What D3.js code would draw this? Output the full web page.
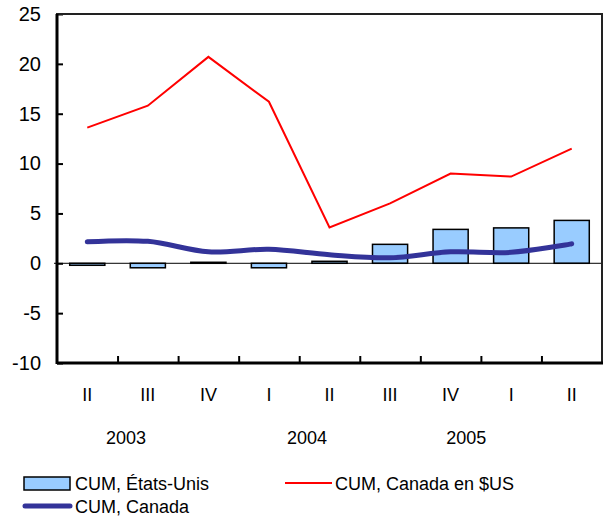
<!DOCTYPE html>
<html>
<head>
<meta charset="utf-8">
<title>CUM</title>
<style>
  body { margin: 0; background: #fff; }
  text { font-family: Arial, "Liberation Sans", sans-serif; fill: #000; }
</style>
</head>
<body>
<script src="https://d3js.org/d3.v7.min.js"></script>
<script>
// data
var quarters = ["II", "III", "IV", "I", "II", "III", "IV", "I", "II"];
var years = ["2003", "2004", "2005"];
var yearPos = [1.14, 4.13, 6.76]; // position in category units
var cumUS = [-0.2, -0.45, 0.1, -0.45, 0.2, 1.9, 3.4, 3.55, 4.3];
var cumCanUSD = [13.6, 15.8, 20.7, 16.2, 3.6, 6.0, 9.0, 8.7, 11.5];
var cumCanada = [2.15, 2.2, 1.15, 1.4, 0.85, 0.55, 1.15, 1.1, 1.95];
var yTicks = [-10, -5, 0, 5, 10, 15, 20, 25];

var width = 613, height = 519;
var m = {left: 57, right: 11, top: 14, bottom: 156};
var w = width - m.left - m.right, h = height - m.top - m.bottom;

var svg = d3.select("body").append("svg")
    .attr("width", width)
    .attr("height", height);

var g = svg.append("g").attr("transform", "translate(" + m.left + "," + m.top + ")");

var x = d3.scaleBand().domain(d3.range(quarters.length)).range([0, w]);
var y = d3.scaleLinear().domain([-10, 25]).range([h, 0]);

// bars
g.selectAll(".bar")
    .data(cumUS)
    .enter().append("rect")
    .attr("x", function(d, i) { return x(i) + x.bandwidth() * 0.21; })
    .attr("width", x.bandwidth() * 0.58)
    .attr("y", function(d) { return y(Math.max(0, d)); })
    .attr("height", function(d) { return Math.abs(y(d) - y(0)); })
    .style("fill", "#99ccff")
    .style("stroke", "#000")
    .style("stroke-width", 1.5);

// zero line
g.append("line")
    .attr("x1", -3).attr("x2", w)
    .attr("y1", y(0)).attr("y2", y(0))
    .style("stroke", "#000").style("stroke-width", 1);

var cx = function(d, i) { return x(i) + x.bandwidth() / 2; };

g.append("path")
    .datum(cumCanUSD)
    .attr("d", d3.line().x(cx).y(function(d) { return y(d); }))
    .style("fill", "none").style("stroke", "#ff0000").style("stroke-width", 2);

g.append("path")
    .datum(cumCanada)
    .attr("d", d3.line().x(cx).y(function(d) { return y(d); }).curve(d3.curveCatmullRom))
    .style("fill", "none").style("stroke", "#333399").style("stroke-width", 5)
    .style("stroke-linecap", "round");

// y axis
var yAxis = g.append("g")
    .call(d3.axisLeft(y).tickValues(yTicks).tickSize(-6).tickPadding(16)
        .tickFormat(function(d) { return String(d); }));
yAxis.selectAll("text").style("font-size", "20px");
yAxis.selectAll("line").style("stroke-width", 2);
yAxis.select(".domain").remove();

// x ticks on the category boundaries
var xAxis = g.append("g")
    .attr("transform", "translate(0," + h + ")")
    .call(d3.axisBottom(d3.scaleLinear().domain([0, quarters.length]).range([0, w]))
        .tickValues(d3.range(1, quarters.length)).tickSize(-7).tickFormat(""));
xAxis.selectAll("line").style("stroke-width", 2);
xAxis.select(".domain").remove();

// frame
g.append("rect")
    .attr("width", w).attr("height", h)
    .style("fill", "none").style("stroke", "#222").style("stroke-width", 2);
g.append("line").attr("x1", 0).attr("x2", 0).attr("y1", 0).attr("y2", h + 1)
    .style("stroke", "#000").style("stroke-width", 3);
g.append("line").attr("x1", 0).attr("x2", w + 1).attr("y1", h).attr("y2", h)
    .style("stroke", "#000").style("stroke-width", 3);

// quarter labels
g.selectAll(".q")
    .data(quarters)
    .enter().append("text")
    .attr("x", cx)
    .attr("y", h + 38)
    .attr("text-anchor", "middle")
    .style("font-size", "18px")
    .text(function(d) { return d; });

// year labels
var xu = w / quarters.length;
g.selectAll(".yr")
    .data(years)
    .enter().append("text")
    .attr("x", function(d, i) { return yearPos[i] * xu; })
    .attr("y", h + 81)
    .attr("text-anchor", "middle")
    .style("font-size", "18px")
    .text(function(d) { return d; });

// legend
var lg = svg.append("g");
lg.append("rect")
    .attr("x", 24).attr("y", 477).attr("width", 46).attr("height", 13)
    .style("fill", "#99ccff").style("stroke", "#000").style("stroke-width", 1.5);
lg.append("text").attr("x", 75).attr("y", 490).style("font-size", "18px").text("CUM, États-Unis");

lg.append("line").attr("x1", 285).attr("x2", 332).attr("y1", 483).attr("y2", 483)
    .style("stroke", "#ff0000").style("stroke-width", 2);
lg.append("text").attr("x", 335).attr("y", 490).style("font-size", "18px").text("CUM, Canada en $US");

lg.append("line").attr("x1", 25).attr("x2", 70).attr("y1", 506).attr("y2", 506)
    .style("stroke", "#333399").style("stroke-width", 5).style("stroke-linecap", "round");
lg.append("text").attr("x", 75).attr("y", 513).style("font-size", "18px").text("CUM, Canada");
</script>
</body>
</html>
